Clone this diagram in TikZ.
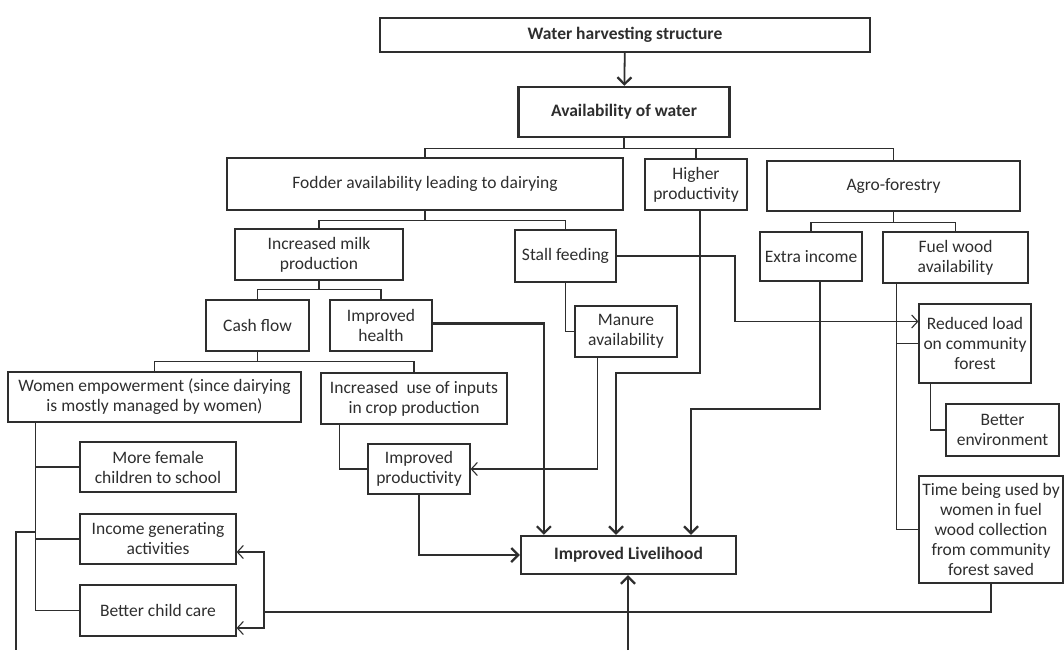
\documentclass[tikz,border=0pt]{standalone}
\usepackage{fontspec}
\setmainfont{Carlito}
\usetikzlibrary{arrows.meta,calc}
\definecolor{ink}{HTML}{2E2E2E}
\tikzset{
  box/.style={draw=ink, text=ink, line width=1.2pt, align=center, inner sep=1pt,
    font=\fontsize{17.5}{20}\selectfont},
  tbox/.style={box, line width=2.4pt, font=\fontsize{17.5}{20}\selectfont\bfseries},
  ln/.style={draw=ink, line width=1.1pt},
  tk/.style={draw=ink, line width=2.6pt},
  arr/.style={-{Straight Barb[length=6pt,width=13pt]}},
  tarr/.style={-{Straight Barb[length=7pt,width=14pt,line width=2.2pt]}},
}
\begin{document}
\begin{tikzpicture}[x=1pt,y=-1pt]
\fill[white] (0,0) rectangle (1064,650);
\useasboundingbox (0,0) rectangle (1064,650);

% nodes
\node[tbox, minimum width=490, minimum height=34] (water) at (625,35) {Water harvesting structure};
\node[tbox, minimum width=211, minimum height=50] (avail) at (624,112) {Availability of water};
\node[box, minimum width=396, minimum height=52] (fodder) at (425,184) {Fodder availability leading to dairying};
\node[box, minimum width=102, minimum height=51] (higher) at (696,184.5) {Higher\\productivity};
\node[box, minimum width=253, minimum height=50] (agro) at (893.5,186) {Agro-forestry};
\node[box, minimum width=168, minimum height=51] (milk) at (319,254.5) {Increased milk\\production};
\node[box, minimum width=101, minimum height=52] (stall) at (565.5,256) {Stall feeding};
\node[box, minimum width=103, minimum height=51] (cash) at (257.5,325.5) {Cash flow};
\node[box, minimum width=102, minimum height=51] (health) at (381,325.5) {Improved\\health};
\node[box, minimum width=293, minimum height=50] (women) at (154.5,397) {Women empowerment (since dairying\\is mostly managed by women)};
\node[box, minimum width=186, minimum height=51] (incuse) at (414,398.5) {Increased\ \ use of inputs\\in crop production};
\node[box, minimum width=156, minimum height=50] (morefem) at (158,467) {More female\\children to school};
\node[box, minimum width=156, minimum height=50] (income) at (158,539) {Income generating\\activities};
\node[box, minimum width=156, minimum height=51] (childcare) at (158,610.5) {Better child care};
\node[box, minimum width=102, minimum height=50] (improd) at (419,469) {Improved\\productivity};
\node[box, minimum width=102, minimum height=51] (manure) at (626,331.5) {Manure\\availability};
\node[tbox, minimum width=215, minimum height=38] (liveli) at (628.5,555) {Improved Livelihood};
\node[box, minimum width=102, minimum height=49] (extra) at (811,256.5) {Extra income};
\node[box, minimum width=145, minimum height=51] (fuel) at (955.5,257.5) {Fuel wood\\availability};
\node[box, minimum width=112, minimum height=79] (reduced) at (975,343.5) {Reduced load\\on community\\forest};
\node[box, minimum width=113, minimum height=52] (betterenv) at (1002.5,430) {Better\\environment};
\node[box, minimum width=144, minimum height=107] (time) at (991,529.5) {Time being used by\\women in fuel\\wood collection\\from community\\forest saved};

% top arrow
\draw[tk, line width=1.8pt, tarr] (water) -- (avail);

% branch from availability
\draw[ln, line width=1.4pt] (avail.south) -- ++(0,10) coordinate (b0);
\draw[ln, line width=1.4pt] (fodder.north) |- (b0) -| (agro.north);
\draw[ln, line width=1.4pt] (higher.north) -- (higher.north |- b0);

% fodder branch
\draw[ln] (fodder.south) -- ++(0,10) coordinate (b1);
\draw[ln] (milk.north) |- (b1) -| (stall.north);

% milk branch
\draw[ln] (milk.south) -- ++(0,9) coordinate (b2);
\draw[ln] (cash.north) |- (b2) -| (health.north);

% cash branch
\draw[ln] (cash.south) -- ++(0,10) coordinate (b3);
\draw[ln] (women.north) |- (b3) -| (incuse.north);

% agro branch
\draw[ln] (agro.south) -- ++(0,11) coordinate (b4);
\draw[ln] (extra.north) |- (b4) -| (fuel.north);

% women children
\coordinate (w0) at ($(women.south west)+(28,0)$);
\draw[ln] (w0) |- (childcare.west);
\draw[ln] (morefem.west) -- (morefem.west -| w0);
\draw[ln] (income.west) -- (income.west -| w0);
\coordinate (tk1) at (16,532);
\coordinate (tk2) at (16,650);
\draw[tk] (w0 |- tk1) -- (tk1) -- (tk2);

% inputs -> improved productivity
\draw[ln] ($(incuse.south west)+(19,0)$) |- (improd.west);
\draw[ln, arr] ($(manure.south west)+(23,0)$) |- (improd.east);

% stall feeding links
\draw[ln] (stall.south) |- (manure.west);
\coordinate (sk) at (735,290);
\draw[ln, arr] (stall.east) -| (sk) |- ($(reduced.west)+(0,-22)$);

% fuel wood links
\coordinate (f0) at ($(fuel.south west)+(14,0)$);
\draw[ln] (f0) |- (time.west);
\draw[ln] (reduced.west) -- (reduced.west -| f0);
\draw[ln] ($(reduced.south west)+(12,0)$) |- (betterenv.west);

% time saved -> income / child care
\coordinate (tj) at (264,612);
\draw[ln] (time.south) |- (tj);
\draw[ln, arr] (tj) |- ($(income.east)+(0,13)$);
\draw[ln, arr] (tj) |- ($(childcare.east)+(0,17.5)$);

% thick arrows to improved livelihood
\draw[tk, tarr] ($(health.east)+(0,-2)$) -| ($(liveli.north west)+(24,0)$);
\coordinate (hk) at (616,373);
\draw[tk, tarr] ($(higher.south)+(4,0)$) |- (hk) -- (hk |- liveli.north);
\coordinate (ek) at (691,409);
\draw[tk, tarr] ($(extra.south)+(9,0)$) |- (ek) -- (ek |- liveli.north);
\draw[tk, tarr] (improd.south) |- (liveli.west);
\coordinate (bt) at (628,650);
\draw[tk, tarr] (bt) -- (liveli.south -| bt);
\end{tikzpicture}
\end{document}
